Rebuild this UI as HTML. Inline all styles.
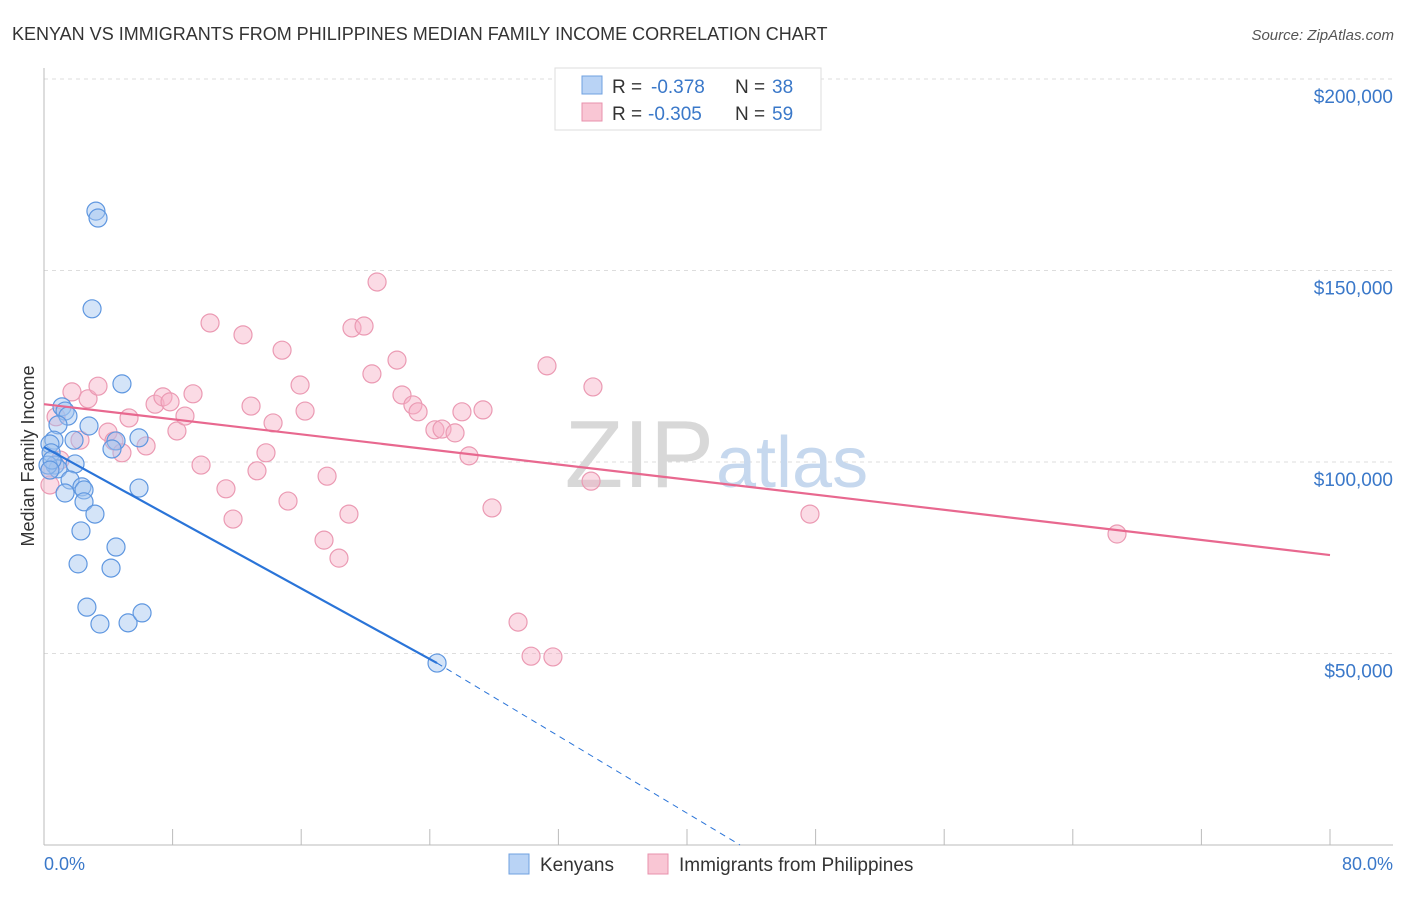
<!DOCTYPE html>
<html><head><meta charset="utf-8"><style>
body{margin:0;background:#fff;font-family:"Liberation Sans",sans-serif}
svg text{font-family:"Liberation Sans",sans-serif}
</style></head><body>
<svg id="chart" width="1406" height="892" viewBox="0 0 1406 892">
<text x="12" y="40" font-size="18" fill="#333">KENYAN VS IMMIGRANTS FROM PHILIPPINES MEDIAN FAMILY INCOME CORRELATION CHART</text>
<text x="1394" y="40" font-size="15" fill="#555" font-style="italic" text-anchor="end">Source: ZipAtlas.com</text>
<g id="grid"></g>
<text x="714" y="487" font-size="96" fill="#d8d8d8" text-anchor="end" font-family="Liberation Serif">ZIP</text>
<text x="716" y="487" font-size="72" fill="#c6d8ee">atlas</text>
<g id="ylabels"></g>
<text transform="translate(34,456) rotate(-90)" font-size="18" fill="#333" text-anchor="middle">Median Family Income</text>
<line x1="44" y1="68" x2="44" y2="845" stroke="#bbb"/>
<line x1="44" y1="845" x2="1393" y2="845" stroke="#bbb"/>
<g id="xticks"></g>
<text x="44" y="870" font-size="18" fill="#3a78c9">0.0%</text>
<text x="1393" y="870" font-size="18" fill="#3a78c9" text-anchor="end">80.0%</text>
<g id="pinkpts"></g>
<g id="bluepts"></g>
<g id="lines"></g>
<g>
<rect x="555" y="68" width="266" height="62" fill="#fff" stroke="#ddd"/>
<rect x="582" y="76" width="20" height="18" fill="#b9d3f5" stroke="#6fa0e0"/>
<rect x="582" y="103" width="20" height="18" fill="#f9c6d4" stroke="#e891ac"/>
<text x="612" y="93" font-size="19" fill="#333">R =</text>
<text x="651" y="93" font-size="19" fill="#3a78c9">-0.378</text>
<text x="735" y="93" font-size="19" fill="#333">N =</text>
<text x="772" y="93" font-size="19" fill="#3a78c9">38</text>
<text x="612" y="120" font-size="19" fill="#333">R =</text>
<text x="648" y="120" font-size="19" fill="#3a78c9">-0.305</text>
<text x="735" y="120" font-size="19" fill="#333">N =</text>
<text x="772" y="120" font-size="19" fill="#3a78c9">59</text>
</g>
<g>
<rect x="509" y="854" width="20" height="20" fill="#b9d3f5" stroke="#6fa0e0"/>
<text x="540" y="871" font-size="19" fill="#333">Kenyans</text>
<rect x="648" y="854" width="20" height="20" fill="#f9c6d4" stroke="#e891ac"/>
<text x="679" y="871" font-size="19" fill="#333">Immigrants from Philippines</text>
</g>
</svg>
<script>
const blueX=[3.23,3.36,2.99,4.85,1.12,1.31,1.49,0.87,2.80,0.62,1.87,4.48,5.91,4.23,0.37,0.44,0.68,1.93,0.87,1.62,1.31,2.36,2.49,2.49,3.17,5.91,2.30,4.48,2.12,4.17,2.67,3.48,5.23,6.10,24.45,0.25,0.50,0.37];
const blueY=[165500,163700,140000,120400,114400,113300,112000,109700,109400,105700,105700,105500,106300,103400,104700,102400,99200,99500,98200,95300,91900,93500,92700,89600,86400,93200,82000,77800,73400,72300,62100,57700,58000,60600,47500,99200,100500,97900];
const pinkX=[0.37,1.0,1.74,0.75,2.74,3.36,2.24,3.98,4.35,4.85,5.29,6.35,6.91,7.40,7.84,8.27,8.77,9.27,9.77,10.33,11.32,11.76,12.38,12.88,13.25,13.81,14.25,14.81,15.18,15.93,16.24,17.42,17.61,18.35,18.97,19.16,19.91,20.40,20.72,21.96,22.27,22.95,23.27,24.32,24.76,25.57,26.0,26.44,27.31,27.87,29.49,30.30,31.29,31.66,34.03,34.15,47.65,66.75,0.37];
const pinkY=[94000,100500,118300,111800,116500,119800,105700,107800,105500,102400,111500,104200,115100,117000,115700,108100,112000,117800,99200,136300,93000,85100,133200,114600,97700,102400,110200,129200,89800,120100,113300,79600,96300,74900,86400,135000,135500,123000,147000,126600,117500,114900,113100,108400,108600,107600,113100,101600,113600,88000,58200,49300,125100,49100,95000,119600,86400,81200,97900];
const yTicks=[50000,100000,150000,200000];
const yTickLabels=["$50,000","$100,000","$150,000","$200,000"];
const xTicks=[8,16,24,32,40,48,56,64,72,80];
const pinkTrend=[[0,115100],[80,75700]];
const blueTrend=[[0,103900],[24.45,47500]];
const blueDash=[[24.45,47500],[43.3,0]];
const NS="http://www.w3.org/2000/svg";
const sx=v=>44+v*16.075, sy=v=>845-v/50000*191.5;
function mk(t,a,p){const e=document.createElementNS(NS,t);for(const k in a)e.setAttribute(k,a[k]);p.appendChild(e);return e;}
const grid=document.getElementById('grid'),yl=document.getElementById('ylabels');
yTicks.forEach((v,i)=>{
 const l=mk('line',{x1:44,x2:1393,y1:sy(v),y2:sy(v),stroke:'#ddd','stroke-dasharray':'4,4'},grid);
 
 
 const t=mk('text',{x:1393,y:sy(v)+24,'font-size':19,fill:'#3a78c9','text-anchor':'end'},yl);
 t.textContent=yTickLabels[i];
 
 
});
const xt=document.getElementById('xticks');
xTicks.forEach(v=>{
 const l=mk('line',{x1:sx(v),x2:sx(v),y1:829,y2:845,stroke:'#bbb'},xt);
 
 
});
const pg=document.getElementById('pinkpts');
pinkX.forEach((x,i)=>{
 const c=mk('circle',{cx:sx(x),cy:sy(pinkY[i]),r:9,fill:'rgba(246,176,198,0.45)',stroke:'#eb9ab3','stroke-width':1.2},pg);
 
 
});
const bg=document.getElementById('bluepts');
blueX.forEach((x,i)=>{
 const c=mk('circle',{cx:sx(x),cy:sy(blueY[i]),r:9,fill:'rgba(160,196,240,0.45)',stroke:'#5f97e0','stroke-width':1.2},bg);
 
 
});
const lg=document.getElementById('lines');
const pl=mk('line',{x1:sx(pinkTrend[0][0]),y1:sy(pinkTrend[0][1]),x2:sx(pinkTrend[1][0]),y2:sy(pinkTrend[1][1]),stroke:'#e8688f','stroke-width':2.2},lg);


const bl=mk('line',{x1:sx(blueTrend[0][0]),y1:sy(blueTrend[0][1]),x2:sx(blueTrend[1][0]),y2:sy(blueTrend[1][1]),stroke:'#2a74d8','stroke-width':2.2},lg);


const bd=mk('line',{x1:sx(blueDash[0][0]),y1:sy(blueDash[0][1]),x2:sx(blueDash[1][0]),y2:sy(blueDash[1][1]),stroke:'#2a74d8','stroke-width':1,'stroke-dasharray':'6,5'},lg);


</script>
</body></html>
